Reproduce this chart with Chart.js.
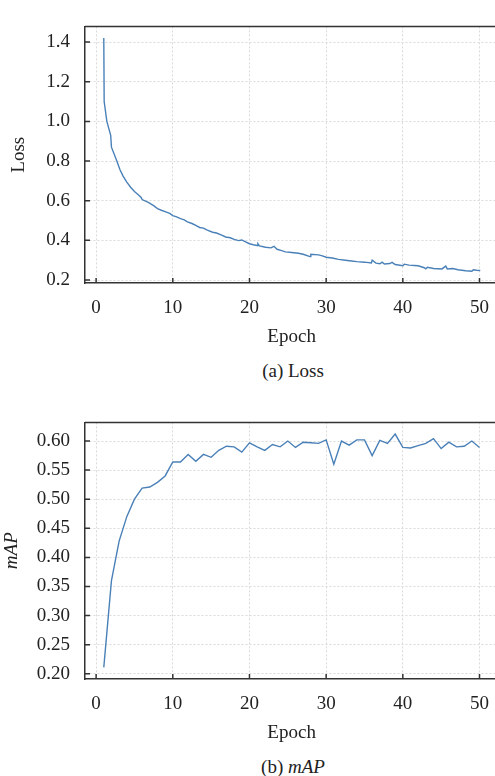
<!DOCTYPE html>
<html>
<head>
	<style type="text/css">
	body{
		margin: 0;
		overflow: hidden;
		background: #fff;
		font-family: "Liberation Serif", "Times New Roman", Times, serif;
	}
	.box{ position: absolute; left: 0; width: 503px; height: 350px; }
	.cap{ position: absolute; left: 0; width: 586px; text-align: center; font-size: 19px; color: #222; }
	</style>
    <title>Loss and mAP</title>
    <script type="text/javascript" src="https://cdn.jsdelivr.net/npm/chart.js@4.4.0/dist/chart.umd.min.js"></script>
</head>
<body>
<div class="box" style="top:0px;"><canvas id="lossChart"></canvas></div>
<div class="cap" style="top:360px;">(a) Loss</div>
<div class="box" style="top:396px;"><canvas id="mapChart"></canvas></div>
<div class="cap" style="top:756px;">(b) <i>mAP</i></div>
<script type="text/javascript">
    // loss (sub-epoch resolution)
    var lossEpochs = [1.0, 1.05, 1.4, 1.9, 2.0, 2.7, 3.1, 3.5, 4.0, 4.5, 5.0, 5.5, 5.9, 6.0, 6.8, 7.5, 8.0, 8.5, 9.0, 9.6,
        10.0, 10.5, 11.0, 11.5, 11.9, 12.5, 13.0, 13.5, 14.0, 14.5, 15.2, 15.7, 16.3, 16.9, 17.5, 18.0, 18.6, 19.0, 19.5,
        20.0, 20.5, 21.0, 21.1, 21.3, 22.1, 22.8, 23.2, 23.6, 24.2, 24.7, 25.5, 26.4, 27.0, 27.9, 28.0, 29.0, 29.5,
        30.0, 30.8, 31.6, 32.5, 33.3, 34.0, 35.0, 35.9, 36.0, 36.5, 37.0, 37.3, 37.6, 38.3, 38.6, 39.0,
        40.0, 40.2, 40.8, 41.5, 42.0, 42.8, 43.0, 43.2, 44.0, 45.1, 45.6, 45.8, 46.5, 47.2, 48.2, 49.0, 49.2, 49.6, 50.1];
    var lossValues = [1.42, 1.10, 1.00, 0.93, 0.87, 0.80, 0.757, 0.725, 0.694, 0.668, 0.646, 0.630, 0.615, 0.606, 0.591, 0.575, 0.560, 0.552, 0.545, 0.536,
        0.525, 0.518, 0.510, 0.503, 0.493, 0.485, 0.475, 0.465, 0.462, 0.452, 0.441, 0.437, 0.428, 0.417, 0.413, 0.405, 0.399, 0.402, 0.392,
        0.383, 0.378, 0.374, 0.383, 0.372, 0.365, 0.362, 0.370, 0.355, 0.348, 0.342, 0.339, 0.335, 0.330, 0.318, 0.330, 0.327, 0.322,
        0.315, 0.311, 0.304, 0.300, 0.296, 0.293, 0.290, 0.286, 0.300, 0.285, 0.282, 0.290, 0.281, 0.283, 0.289, 0.278,
        0.272, 0.280, 0.275, 0.273, 0.272, 0.262, 0.256, 0.264, 0.258, 0.256, 0.270, 0.256, 0.258, 0.252, 0.247, 0.244, 0.252, 0.249, 0.248];

    // mAP per epoch 1..50
    var mapEpochs = [];
    for (var i = 1; i <= 50; ++i) mapEpochs.push(i);
    var mapValues = [0.211, 0.360, 0.428, 0.470, 0.500, 0.519, 0.521, 0.529, 0.540, 0.564,
        0.564, 0.577, 0.565, 0.577, 0.572, 0.584, 0.591, 0.590, 0.581, 0.597,
        0.590, 0.584, 0.594, 0.590, 0.600, 0.589, 0.598, 0.597, 0.596, 0.602,
        0.560, 0.600, 0.593, 0.602, 0.602, 0.575, 0.601, 0.596, 0.612, 0.589,
        0.588, 0.592, 0.596, 0.604, 0.587, 0.598, 0.590, 0.591, 0.600, 0.589];

    var xTicks = [0, 10, 20, 30, 40, 50];
    var lossTicks = [0.2, 0.4, 0.6, 0.8, 1.0, 1.2, 1.4];
    var mapTicks = [0.20, 0.25, 0.30, 0.35, 0.40, 0.45, 0.50, 0.55, 0.60];

    var AXIS = '#333';
    var LINE = '#4a80b8';
    var FAMILY = "'Liberation Serif', 'Times New Roman', Times, serif";
    var FONT = {family: FAMILY, size: 19};

    // frame on top/right and inward tick marks
    var framePlugin = {
        id: 'frame',
        afterDraw: function (chart) {
            var ctx = chart.ctx, a = chart.chartArea;
            var xs = chart.scales.x, ys = chart.scales.y;
            ctx.save();
            ctx.strokeStyle = AXIS;
            ctx.lineWidth = 1.5;
            ctx.beginPath();
            ctx.moveTo(a.left, a.top); ctx.lineTo(a.right, a.top); ctx.lineTo(a.right, a.bottom);
            xs.ticks.forEach(function (t) {
                var px = xs.getPixelForValue(t.value);
                ctx.moveTo(px, a.bottom); ctx.lineTo(px, a.bottom - 5);
            });
            ys.ticks.forEach(function (t) {
                var py = ys.getPixelForValue(t.value);
                ctx.moveTo(a.left, py); ctx.lineTo(a.left + 5, py);
            });
            ctx.stroke();
            ctx.restore();
        }
    };

    function makeChart(id, xs, ys, yMin, yMax, yStep, yTicks, title, italic, titlePad, digits) {
        var pts = [];
        for (var i = 0; i < xs.length; ++i) pts.push({x: xs[i], y: ys[i]});
        return new Chart(document.getElementById(id), {
            type: 'line',
            data: {datasets: [{data: pts, borderColor: LINE, borderWidth: 1.4, pointRadius: 0, tension: 0, fill: false}]},
            options: {
                responsive: true,
                maintainAspectRatio: false,
                animation: false,
                layout: {padding: {top: 11, left: 0, right: 0, bottom: 2}},
                plugins: {legend: {display: false}, tooltip: {enabled: false}},
                scales: {
                    x: {
                        type: 'linear', min: -1.45, max: 52.45,
                        afterFit: function (s) { s.height = 65; },
                        ticks: {stepSize: 10, includeBounds: false, padding: 14, color: '#222', font: FONT,
                            callback: function (v) { return xTicks.indexOf(v) >= 0 ? String(v) : ''; }},
                        grid: {color: '#dadada', lineWidth: 1, drawTicks: false},
                        border: {color: AXIS, width: 1.5, dash: [2, 2]},
                        title: {display: true, text: 'Epoch', color: '#222', font: FONT, padding: 0}
                    },
                    y: {
                        min: yMin, max: yMax,
                        afterFit: function (s) { s.width = 85; },
                        ticks: {stepSize: yStep, includeBounds: false, padding: 15, color: '#222', font: FONT,
                            callback: function (v) {
                                var r = Math.round(v * 100) / 100;
                                return yTicks.indexOf(r) >= 0 ? r.toFixed(digits) : '';
                            }},
                        grid: {color: '#dadada', lineWidth: 1, drawTicks: false},
                        border: {color: AXIS, width: 1.5, dash: [2, 2]},
                        title: {display: true, text: title, color: '#222', padding: titlePad,
                            font: {family: FAMILY, size: 19, style: italic ? 'italic' : 'normal'}}
                    }
                }
            },
            plugins: [framePlugin]
        });
    }

    makeChart('lossChart', lossEpochs, lossValues, 0.185, 1.479, 0.2, lossTicks, 'Loss', false, 8, 1);
    makeChart('mapChart', mapEpochs, mapValues, 0.191, 0.632, 0.05, mapTicks, 'mAP', true, 1, 2);
</script>
</body>
</html>
